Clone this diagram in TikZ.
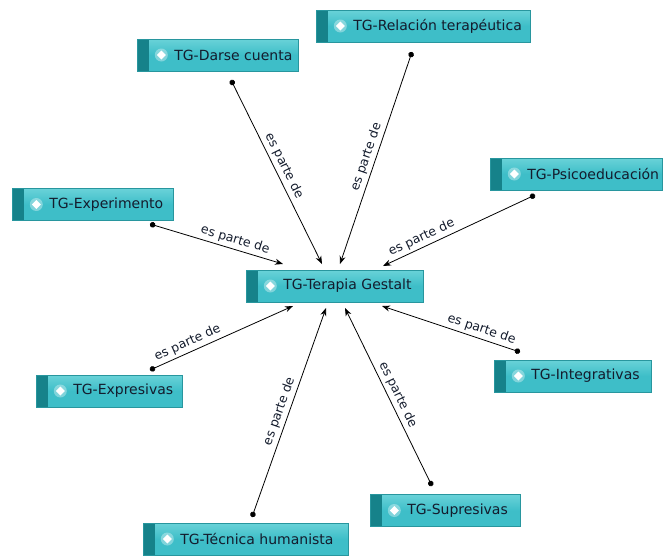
\documentclass[tikz,border=0pt]{standalone}
\usepackage{fontspec}
\setmainfont{DejaVu Sans}
\usetikzlibrary{arrows.meta,shapes.geometric}
\definecolor{tgfill}{RGB}{62,190,200}
\definecolor{tgtop}{RGB}{105,210,216}
\definecolor{tgborder}{RGB}{40,150,158}
\definecolor{tgstripe}{RGB}{22,130,138}
\definecolor{tgtext}{RGB}{20,28,45}
\newcommand\tglabel[2]{\makebox[#1pt][l]{\hspace*{37pt}#2}}
\tikzset{
  tgbox/.style={draw=tgborder, line width=0.6pt, top color=tgtop, bottom color=tgfill,
    middle color=tgfill, rectangle, anchor=west, inner xsep=0pt, inner ysep=0pt,
    minimum height=32pt, text=tgtext, font=\fontsize{14}{16}\selectfont,
    path picture={
      \fill[tgstripe] (path picture bounding box.south west) rectangle ([xshift=12pt]path picture bounding box.north west);
      \fill[white, opacity=0.35] ([xshift=24pt]path picture bounding box.west) circle (6.5pt);
      \fill[white] ([xshift=24pt]path picture bounding box.west) ++(0,4.5pt) -- ++(4.5pt,-4.5pt) -- ++(-4.5pt,-4.5pt) -- ++(-4.5pt,4.5pt) -- cycle;
    }},
  rel/.style={line width=0.8pt, {Circle[length=5.5pt]}-{Stealth[length=8pt,width=6pt]}},
  rellabel/.style={sloped, above, font=\fontsize{12.5}{14}\selectfont, text=tgtext, inner sep=3pt}
}
\begin{document}
\begin{tikzpicture}[x=1pt,y=-1pt]
\useasboundingbox[fill=white] (0,0) rectangle (664,558);
% boxes
\node[tgbox] (dc) at (137,55) {\tglabel{161}{TG-Darse cuenta}};
\node[tgbox] (rt) at (316,26) {\tglabel{214}{TG-Relación terapéutica}};
\node[tgbox] (ps) at (490,174) {\tglabel{172}{TG-Psicoeducación}};
\node[tgbox] (ex) at (12,204.5) {\tglabel{161}{TG-Experimento}};
\node[tgbox] (tg) at (246,286) {\tglabel{177}{TG-Terapia Gestalt}};
\node[tgbox] (es) at (36,391) {\tglabel{146}{TG-Expresivas}};
\node[tgbox] (in) at (494,376) {\tglabel{157}{TG-Integrativas}};
\node[tgbox] (su) at (370,510.5) {\tglabel{150}{TG-Supresivas}};
\node[tgbox] (te) at (143,539) {\tglabel{205}{TG-Técnica humanista}};
% connector end points
\coordinate (dcA) at (231,80);  \coordinate (dcB) at (322,264);
\coordinate (rtA) at (412,52);  \coordinate (rtB) at (340,264);
\coordinate (psA) at (535,195); \coordinate (psB) at (383,266);
\coordinate (exA) at (150,224); \coordinate (exB) at (283,264);
\coordinate (esA) at (150,370); \coordinate (esB) at (293,306);
\coordinate (teA) at (252,517); \coordinate (teB) at (326,308);
\coordinate (suA) at (432,486); \coordinate (suB) at (345,308);
\coordinate (inA) at (520,352); \coordinate (inB) at (382,306);
% connectors
\draw[rel] (dcA) -- node[rellabel, pos=0.49] {es parte de} (dcB);
\draw[rel] (rtA) -- node[rellabel, pos=0.51] {es parte de} (rtB);
\draw[rel] (psA) -- node[rellabel, pos=0.72] {es parte de} (psB);
\draw[rel] (exA) -- node[rellabel, pos=0.62] {es parte de} (exB);
\draw[rel] (esA) -- node[rellabel, pos=0.29] {es parte de} (esB);
\draw[rel] (teA) -- node[rellabel, pos=0.49] {es parte de} (teB);
\draw[rel] (suA) -- node[rellabel, pos=0.49] {es parte de} (suB);
\draw[rel] (inA) -- node[rellabel, pos=0.30] {es parte de} (inB);
\end{tikzpicture}
\end{document}
